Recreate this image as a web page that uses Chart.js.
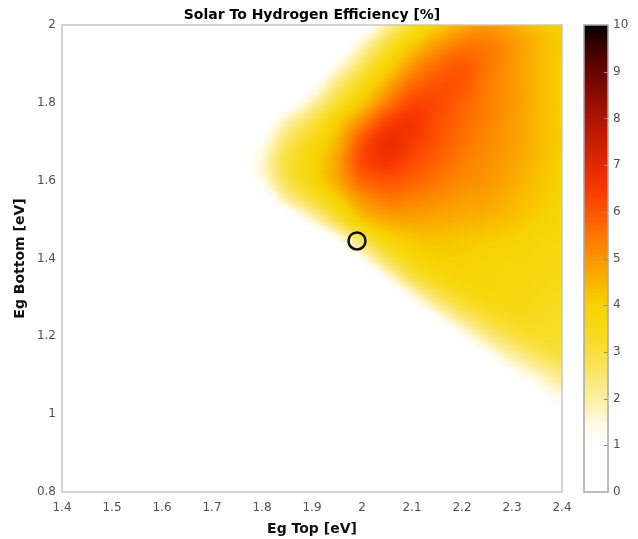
<!DOCTYPE html>
<html>
<head>
<meta charset="utf-8">
<title>Solar To Hydrogen Efficiency</title>
<script src="https://cdn.jsdelivr.net/npm/chart.js@4.4.1/dist/chart.umd.min.js"></script>
<style>
  html, body { margin: 0; padding: 0; background: #fff; }
  canvas { display: block; }
</style>
</head>
<body>
<canvas id="sthChart" width="638" height="539"></canvas>
<script>
// grid axes of the efficiency map (eV)
const egTop = [1.40, 1.45, 1.50, 1.55, 1.60, 1.65, 1.70, 1.75, 1.80, 1.85, 1.90,
               1.95, 2.00, 2.05, 2.10, 2.15, 2.20, 2.25, 2.30, 2.35, 2.40];
const egBottom = [2.00, 1.95, 1.90, 1.85, 1.80, 1.75, 1.70, 1.65, 1.60, 1.55, 1.50, 1.45, 1.40,
                  1.35, 1.30, 1.25, 1.20, 1.15, 1.10, 1.05, 1.00, 0.95, 0.90, 0.85, 0.80];

// STH efficiency [%], one row per egBottom value, columns follow egTop
const sthGrid = [
  [0, 0, 0, 0, 0, 0, 0, 0,   0,   0,   0,   0.2, 0.8, 2.0, 3.2, 4.1, 4.7, 5.0, 4.7, 4.3, 4.0],
  [0, 0, 0, 0, 0, 0, 0, 0,   0,   0,   0,   0.5, 1.7, 3.0, 4.1, 4.9, 5.4, 5.4, 5.0, 4.5, 4.1],
  [0, 0, 0, 0, 0, 0, 0, 0,   0,   0,   0.3, 1.3, 2.6, 3.8, 4.9, 5.6, 5.9, 5.5, 5.0, 4.5, 4.1],
  [0, 0, 0, 0, 0, 0, 0, 0,   0,   0.1, 0.9, 2.3, 3.4, 4.6, 5.6, 6.0, 6.0, 5.4, 5.0, 4.5, 4.1],
  [0, 0, 0, 0, 0, 0, 0, 0,   0.2, 0.8, 1.9, 3.1, 4.2, 5.4, 6.2, 6.2, 5.8, 5.4, 5.0, 4.5, 4.1],
  [0, 0, 0, 0, 0, 0, 0, 0,   0.7, 1.9, 2.9, 4.0, 5.2, 6.3, 6.6, 6.1, 5.7, 5.3, 4.9, 4.5, 4.1],
  [0, 0, 0, 0, 0, 0, 0, 0.3, 1.2, 2.6, 3.5, 4.5, 6.0, 6.8, 6.5, 6.0, 5.6, 5.2, 4.9, 4.5, 4.1],
  [0, 0, 0, 0, 0, 0, 0, 0.5, 1.6, 3.0, 3.8, 4.8, 6.2, 6.6, 6.2, 5.8, 5.4, 5.1, 4.8, 4.4, 4.0],
  [0, 0, 0, 0, 0, 0, 0, 0.3, 1.4, 2.8, 3.7, 4.7, 5.7, 6.0, 5.8, 5.5, 5.2, 5.0, 4.7, 4.3, 4.0],
  [0, 0, 0, 0, 0, 0, 0, 0,   0.6, 2.0, 3.0, 4.0, 5.0, 5.4, 5.3, 5.1, 4.9, 4.8, 4.5, 4.2, 3.9],
  [0, 0, 0, 0, 0, 0, 0, 0,   0,   0.5, 1.7, 3.0, 4.2, 4.7, 4.8, 4.7, 4.6, 4.5, 4.3, 4.0, 3.8],
  [0, 0, 0, 0, 0, 0, 0, 0,   0,   0,   0.2, 1.3, 2.8, 3.8, 4.2, 4.3, 4.2, 4.1, 4.0, 3.8, 3.7],
  [0, 0, 0, 0, 0, 0, 0, 0,   0,   0,   0,   0.2, 1.4, 2.8, 3.7, 4.0, 4.0, 3.9, 3.8, 3.7, 3.6],
  [0, 0, 0, 0, 0, 0, 0, 0,   0,   0,   0,   0,   0.2, 1.4, 2.8, 3.5, 3.8, 3.8, 3.7, 3.6, 3.5],
  [0, 0, 0, 0, 0, 0, 0, 0,   0,   0,   0,   0,   0,   0.2, 1.4, 2.6, 3.3, 3.6, 3.6, 3.5, 3.4],
  [0, 0, 0, 0, 0, 0, 0, 0,   0,   0,   0,   0,   0,   0,   0.2, 1.3, 2.4, 3.1, 3.4, 3.4, 3.3],
  [0, 0, 0, 0, 0, 0, 0, 0,   0,   0,   0,   0,   0,   0,   0,   0.2, 1.2, 2.2, 2.9, 3.2, 3.2],
  [0, 0, 0, 0, 0, 0, 0, 0,   0,   0,   0,   0,   0,   0,   0,   0,   0.2, 1.1, 2.0, 2.6, 3.0],
  [0, 0, 0, 0, 0, 0, 0, 0,   0,   0,   0,   0,   0,   0,   0,   0,   0,   0.2, 1.0, 1.7, 2.3],
  [0, 0, 0, 0, 0, 0, 0, 0,   0,   0,   0,   0,   0,   0,   0,   0,   0,   0,   0.2, 0.9, 1.5],
  [0, 0, 0, 0, 0, 0, 0, 0,   0,   0,   0,   0,   0,   0,   0,   0,   0,   0,   0,   0.3, 0.9],
  [0, 0, 0, 0, 0, 0, 0, 0,   0,   0,   0,   0,   0,   0,   0,   0,   0,   0,   0,   0,   0.3],
  [0, 0, 0, 0, 0, 0, 0, 0,   0,   0,   0,   0,   0,   0,   0,   0,   0,   0,   0,   0,   0],
  [0, 0, 0, 0, 0, 0, 0, 0,   0,   0,   0,   0,   0,   0,   0,   0,   0,   0,   0,   0,   0],
  [0, 0, 0, 0, 0, 0, 0, 0,   0,   0,   0,   0,   0,   0,   0,   0,   0,   0,   0,   0,   0]
];

const xTicks = [1.4, 1.5, 1.6, 1.7, 1.8, 1.9, 2.0, 2.1, 2.2, 2.3, 2.4];
const yTicks = [0.8, 1.0, 1.2, 1.4, 1.6, 1.8, 2.0];
const cbarTicks = [0, 1, 2, 3, 4, 5, 6, 7, 8, 9, 10];

// selected tandem design
const designTop = [1.99];
const designBottom = [1.445];

// white -> yellow -> orange -> red -> black
const colorStops = [
  [0.0, [255, 255, 255]],
  [1.0, [255, 255, 255]],
  [1.5, [255, 250, 224]],
  [2.0, [253, 240, 160]],
  [2.5, [251, 231, 110]],
  [3.0, [249, 223, 60]],
  [3.5, [247, 217, 20]],
  [4.0, [247, 210, 0]],
  [4.5, [250, 182, 0]],
  [5.0, [252, 150, 0]],
  [5.5, [254, 118, 0]],
  [6.0, [255, 84, 0]],
  [6.5, [248, 56, 0]],
  [7.0, [226, 40, 0]],
  [8.0, [172, 21, 0]],
  [9.0, [104, 5, 0]],
  [10.0, [10, 0, 0]]
];

function colorAt(v) {
  if (v <= colorStops[0][0]) return colorStops[0][1];
  for (let i = 1; i < colorStops.length; i++) {
    const [v1, c1] = colorStops[i];
    if (v <= v1) {
      const [v0, c0] = colorStops[i - 1];
      const f = (v - v0) / (v1 - v0);
      return [0, 1, 2].map(k => c0[k] + (c1[k] - c0[k]) * f);
    }
  }
  return colorStops[colorStops.length - 1][1];
}

// locate v inside an ordered axis array, returns [index, fraction]
function locate(axis, v) {
  const n = axis.length;
  const asc = axis[n - 1] > axis[0];
  for (let i = 0; i < n - 1; i++) {
    const a = axis[i], b = axis[i + 1];
    const inside = asc ? (v >= a && v <= b) : (v <= a && v >= b);
    if (inside) return [i, (v - a) / (b - a)];
  }
  const first = asc ? v < axis[0] : v > axis[0];
  return first ? [0, 0] : [n - 2, 1];
}

function node(j, i) {
  j = Math.max(0, Math.min(sthGrid.length - 1, j));
  i = Math.max(0, Math.min(sthGrid[0].length - 1, i));
  return sthGrid[j][i];
}

// catmull-rom weights
function cr(p0, p1, p2, p3, t) {
  return p1 + 0.5 * t * (p2 - p0 + t * (2 * p0 - 5 * p1 + 4 * p2 - p3 + t * (3 * (p1 - p2) + p3 - p0)));
}

// smooth shading between grid nodes
function sthAt(t, b) {
  const [i, fx] = locate(egTop, t);
  const [j, fy] = locate(egBottom, b);
  const rows = [-1, 0, 1, 2].map(dj =>
    cr(node(j + dj, i - 1), node(j + dj, i), node(j + dj, i + 1), node(j + dj, i + 2), fx));
  const v = cr(rows[0], rows[1], rows[2], rows[3], fy);
  return Math.max(0, Math.min(10, v));
}

const heatmapPlugin = {
  id: 'heatmap',
  beforeDatasetsDraw(chart) {
    const { ctx, chartArea: a, scales: { x, y } } = chart;
    const left = Math.round(a.left), top = Math.round(a.top);
    const w = Math.round(a.right) - left, h = Math.round(a.bottom) - top;
    const img = ctx.createImageData(w, h);
    for (let py = 0; py < h; py++) {
      const b = y.getValueForPixel(top + py + 0.5);
      for (let px = 0; px < w; px++) {
        const t = x.getValueForPixel(left + px + 0.5);
        const c = colorAt(sthAt(t, b));
        const k = (py * w + px) * 4;
        img.data[k] = c[0];
        img.data[k + 1] = c[1];
        img.data[k + 2] = c[2];
        img.data[k + 3] = 255;
      }
    }
    ctx.putImageData(img, left, top);
  },
  afterDatasetsDraw(chart) {
    const { ctx, chartArea: a } = chart;
    ctx.save();
    ctx.strokeStyle = '#c6c6c6';
    ctx.lineWidth = 1.5;
    ctx.strokeRect(a.left, a.top, a.right - a.left, a.bottom - a.top);
    ctx.restore();
  }
};

const colorbarPlugin = {
  id: 'colorbar',
  afterDraw(chart) {
    const { ctx } = chart;
    const s = chart.scales.cbar;
    const x0 = s.left + 22, x1 = s.left + 46;
    const yTop = Math.round(s.getPixelForValue(10)), yBot = Math.round(s.getPixelForValue(0));
    ctx.save();
    for (let py = yTop; py < yBot; py++) {
      const c = colorAt(s.getValueForPixel(py + 0.5));
      ctx.fillStyle = `rgb(${c[0] | 0},${c[1] | 0},${c[2] | 0})`;
      ctx.fillRect(x0, py, x1 - x0, 1);
    }
    ctx.strokeStyle = '#8c8c8c';
    ctx.lineWidth = 1;
    cbarTicks.slice(1, -1).forEach(v => {
      const py = Math.round(s.getPixelForValue(v)) + 0.5;
      ctx.beginPath();
      ctx.moveTo(x1 - 4, py);
      ctx.lineTo(x1, py);
      ctx.stroke();
    });
    ctx.strokeStyle = '#a8a8a8';
    ctx.lineWidth = 1.5;
    ctx.strokeRect(x0, yTop, x1 - x0, yBot - yTop);
    ctx.restore();
  }
};

const fmt = v => String(+(+v).toFixed(2));

Chart.defaults.font.family = "'DejaVu Sans', 'Liberation Sans', Arial, sans-serif";
Chart.defaults.font.size = 12;
Chart.defaults.color = '#505050';

const ctx = document.getElementById('sthChart').getContext('2d');
new Chart(ctx, {
  type: 'scatter',
  data: {
    datasets: [{
      data: designTop.map((t, i) => ({ x: t, y: designBottom[i] })),
      pointRadius: 8.5,
      pointHoverRadius: 8.5,
      pointBorderWidth: 2.5,
      pointHoverBorderWidth: 2.5,
      pointBorderColor: '#111111',
      pointBackgroundColor: 'rgba(0,0,0,0)'
    }]
  },
  options: {
    responsive: false,
    animation: false,
    events: [],
    layout: { padding: 0 },
    plugins: {
      legend: { display: false },
      tooltip: { enabled: false },
      title: {
        display: true,
        fullSize: false,
        text: 'Solar To Hydrogen Efficiency [%]',
        color: '#000',
        font: { size: 14, weight: 'bold' },
        padding: { top: 6.5, bottom: 1.7 }
      }
    },
    scales: {
      x: {
        type: 'linear',
        min: 1.4,
        max: 2.4,
        grid: { display: false, drawTicks: false },
        border: { display: false },
        afterBuildTicks: s => { s.ticks = xTicks.map(v => ({ value: v })); },
        afterFit: s => { s.height = 47; },
        ticks: { padding: 9, callback: fmt, maxRotation: 0, autoSkip: false },
        title: {
          display: true,
          text: 'Eg Top [eV]',
          color: '#111',
          font: { size: 14, weight: 'bold' },
          padding: { top: 0, bottom: 1.6 }
        }
      },
      y: {
        type: 'linear',
        min: 0.8,
        max: 2,
        grid: { display: false, drawTicks: false },
        border: { display: false },
        afterBuildTicks: s => { s.ticks = yTicks.map(v => ({ value: v })); },
        afterFit: s => { s.width = 62; },
        ticks: { padding: 6, callback: fmt, autoSkip: false },
        title: {
          display: true,
          text: 'Eg Bottom [eV]',
          color: '#111',
          font: { size: 14, weight: 'bold' },
          padding: { top: 11.6, bottom: 0 }
        }
      },
      cbar: {
        type: 'linear',
        axis: 'y',
        position: 'right',
        min: 0,
        max: 10,
        // hidden tick marks only push the labels past the bar
        grid: { display: false, drawTicks: true, tickLength: 51 },
        border: { display: false },
        afterBuildTicks: s => { s.ticks = cbarTicks.map(v => ({ value: v })); },
        afterFit: s => { s.width = 76; },
        ticks: { padding: 0, autoSkip: false }
      }
    }
  },
  plugins: [heatmapPlugin, colorbarPlugin]
});
</script>
</body>
</html>
